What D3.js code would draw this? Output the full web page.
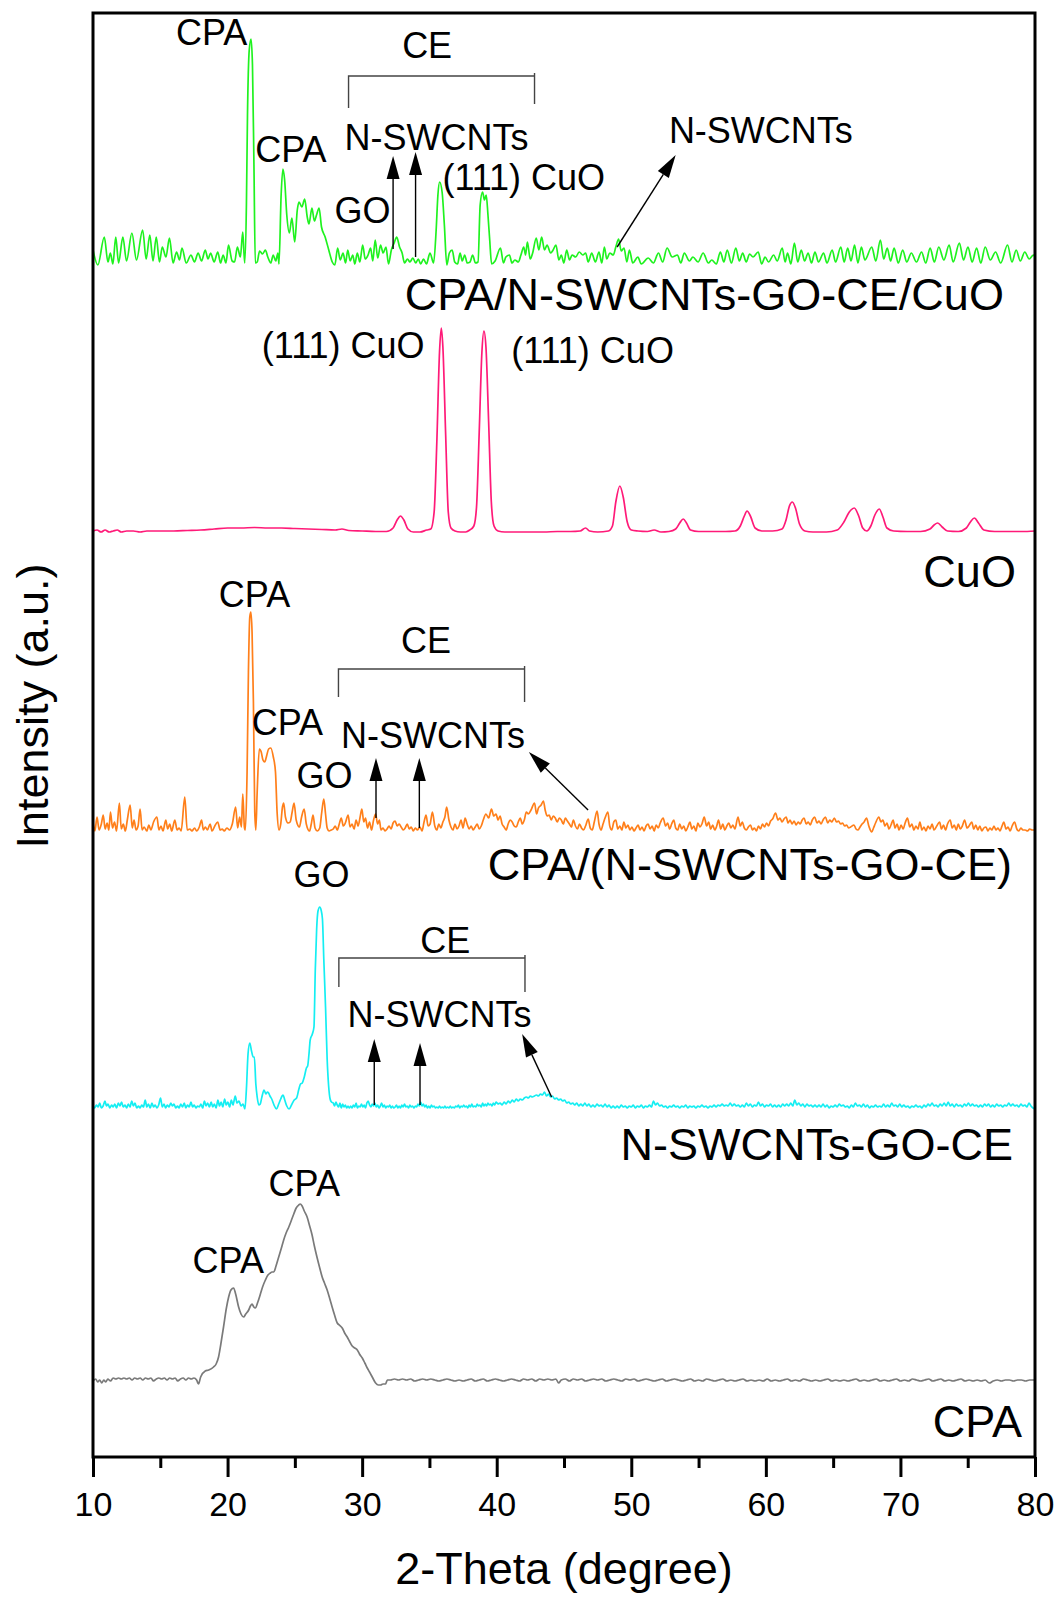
<!DOCTYPE html>
<html>
<head>
<meta charset="utf-8">
<script src="https://cdn.jsdelivr.net/npm/d3@7"></script>
<style>
  body { margin: 0; background: #fff; }
  text { font-family: "Liberation Sans", Arial, Helvetica, sans-serif; fill: #000; }
</style>
</head>
<body>
<svg id="chart" width="1058" height="1597"></svg>
<script>
// ---- XRD patterns: flat lists of [2-theta (deg), relative intensity (a.u.)] ----
const cpaPattern = [
  10.0,1, 10.2,3, 10.35,0, 10.5,2, 10.65,-1, 10.8,2, 10.95,0, 11.1,3, 11.3,1, 11.5,4, 11.7,3, 11.9,4,
  12.1,3, 12.3,4, 12.5,3, 12.7,4, 12.9,2, 13.1,4, 13.3,3, 13.5,4, 13.7,2, 13.9,4, 14.1,3, 14.3,4,
  14.5,1, 14.7,3, 14.9,4, 15.1,3, 15.3,4, 15.5,2, 15.7,4, 15.9,3, 16.1,4, 16.3,1, 16.5,3, 16.7,4,
  16.9,2, 17.1,4, 17.3,3, 17.5,4, 17.7,2, 17.84,-2, 18.0,5, 18.34,11, 18.6,12, 18.96,15, 19.15,18,
  19.33,25, 19.5,38, 19.7,55, 19.9,73, 20.08,85, 20.25,92, 20.45,94, 20.6,88, 20.82,75, 21.0,68,
  21.19,65, 21.35,68, 21.57,72, 21.7,76, 21.82,78, 21.95,75, 22.06,74, 22.25,80, 22.44,88, 22.6,95,
  22.81,102, 23.0,107, 23.18,109, 23.3,110, 23.43,110, 23.6,116, 23.8,125, 24.0,134, 24.17,142,
  24.35,149, 24.55,155, 24.75,162, 24.92,168, 25.1,174, 25.29,177, 25.4,178, 25.54,176, 25.7,171,
  25.91,165, 26.1,156, 26.28,147, 26.45,136, 26.66,124, 26.85,114, 27.03,105, 27.2,99, 27.4,92,
  27.6,83, 27.77,75, 27.95,67, 28.15,59, 28.3,57, 28.52,54, 28.7,49, 28.89,45, 29.05,41, 29.26,36,
  29.45,34, 29.64,32, 29.8,28, 30.01,24, 30.2,19, 30.38,14, 30.55,10, 30.75,5, 31.0,-1, 31.2,-3,
  31.37,-3, 31.55,-2, 31.74,-2, 31.87,2, 32.1,2, 32.4,3, 32.7,2, 33.0,3, 33.3,2, 33.6,3, 33.9,1,
  34.2,2, 34.5,3, 34.8,2, 35.1,3, 35.4,2, 35.7,1, 36.0,2, 36.3,3, 36.6,2, 36.9,1, 37.2,2, 37.5,1,
  37.8,2, 38.1,3, 38.4,1, 38.7,2, 39.0,3, 39.3,1, 39.6,2, 39.9,3, 40.2,2, 40.5,1, 40.8,2, 41.1,3,
  41.4,2, 41.7,1, 42.0,3, 42.3,2, 42.6,3, 42.9,1, 43.2,3, 43.5,2, 43.8,3, 44.1,2, 44.4,3, 44.6,-1,
  44.8,2, 45.1,3, 45.4,1, 45.7,3, 46.0,2, 46.3,3, 46.6,1, 46.9,2, 47.2,3, 47.5,2, 47.8,3, 48.1,1,
  48.4,2, 48.7,3, 49.0,2, 49.3,1, 49.6,3, 49.9,2, 50.2,3, 50.5,1, 50.8,2, 51.1,3, 51.4,2, 51.7,1,
  52.0,2, 52.3,3, 52.6,1, 52.9,2, 53.2,3, 53.5,2, 53.8,1, 54.1,2, 54.4,3, 54.7,1, 55.0,2, 55.3,1,
  55.6,3, 55.9,2, 56.2,1, 56.5,2, 56.8,3, 57.1,1, 57.4,2, 57.7,1, 58.0,2, 58.3,3, 58.6,1, 58.9,2,
  59.2,1, 59.5,2, 59.8,1, 60.1,3, 60.4,1, 60.7,2, 61.0,1, 61.3,2, 61.6,3, 61.9,1, 62.2,2, 62.5,1,
  62.8,3, 63.1,2, 63.4,1, 63.7,2, 64.0,1, 64.3,2, 64.6,3, 64.9,1, 65.2,2, 65.5,1, 65.8,2, 66.1,1,
  66.4,2, 66.7,3, 67.0,1, 67.3,2, 67.6,1, 67.9,2, 68.2,3, 68.5,1, 68.8,2, 69.1,1, 69.4,2, 69.7,3,
  70.0,1, 70.3,2, 70.6,1, 70.9,3, 71.2,2, 71.5,1, 71.8,2, 72.1,3, 72.4,1, 72.7,2, 73.0,3, 73.3,1,
  73.6,2, 73.9,1, 74.2,2, 74.5,3, 74.8,1, 75.1,2, 75.4,1, 75.7,2, 76.0,1, 76.3,2, 76.6,-1, 76.9,1,
  77.2,2, 77.5,1, 77.8,2, 78.1,2, 78.4,1, 78.7,2, 79.0,2, 79.3,1, 79.6,2, 80.0,2
];

const hybridPattern = [ // N-SWCNTs-GO-CE
  10.0,3, 10.12,1, 10.25,4, 10.38,2, 10.5,6, 10.62,1, 10.75,3, 10.89,8, 11.0,3, 11.12,5, 11.25,1,
  11.38,4, 11.5,2, 11.62,5, 11.75,1, 11.88,6, 12.0,3, 12.12,7, 12.25,2, 12.38,4, 12.5,1, 12.62,5,
  12.75,2, 12.88,8, 13.0,3, 13.12,6, 13.25,1, 13.38,3, 13.5,1, 13.62,4, 13.75,2, 13.88,9, 14.0,2,
  14.12,5, 14.25,1, 14.38,6, 14.5,2, 14.62,4, 14.75,1, 14.88,4, 15.02,11, 15.15,2, 15.28,5, 15.4,1,
  15.52,4, 15.65,2, 15.78,6, 15.9,3, 16.02,5, 16.15,1, 16.28,3, 16.4,1, 16.52,5, 16.65,2, 16.78,6,
  16.9,1, 17.02,4, 17.15,2, 17.28,7, 17.4,2, 17.52,4, 17.65,1, 17.78,3, 17.9,2, 18.02,5, 18.15,1,
  18.28,8, 18.4,3, 18.52,6, 18.65,2, 18.78,7, 18.9,2, 19.02,5, 19.15,1, 19.28,9, 19.4,3, 19.52,7,
  19.65,2, 19.78,10, 19.9,4, 20.02,7, 20.15,2, 20.28,9, 20.4,4, 20.57,13, 20.7,6, 20.85,8, 21.0,3,
  21.15,5, 21.29,0, 21.4,20, 21.52,55, 21.65,66, 21.78,58, 21.9,52, 21.99,52, 22.1,25, 22.2,12,
  22.32,4, 22.43,5, 22.55,12, 22.71,19, 22.85,15, 22.95,17, 23.05,16, 23.15,13, 23.28,10, 23.45,4,
  23.63,0, 23.8,5, 23.95,10, 24.05,13, 24.13,14, 24.25,9, 24.4,3, 24.57,0, 24.75,4, 24.95,9,
  25.13,11, 25.3,20, 25.42,25, 25.55,26, 25.7,32, 25.86,41, 25.95,43, 26.05,55, 26.14,69, 26.3,75,
  26.42,82, 26.52,140, 26.62,180, 26.72,198, 26.85,202, 26.95,199, 27.05,190, 27.15,150, 27.28,102,
  27.4,50, 27.51,23, 27.62,10, 27.72,7, 27.85,6, 27.95,3, 28.05,7, 28.15,4, 28.25,2, 28.35,6,
  28.45,1, 28.55,5, 28.65,2, 28.75,4, 28.85,1, 28.95,3, 29.05,1, 29.15,3, 29.25,1, 29.35,4, 29.45,2,
  29.55,6, 29.65,1, 29.75,3, 29.85,2, 29.95,5, 30.05,2, 30.15,4, 30.25,1, 30.35,6, 30.45,8, 30.55,4,
  30.65,2, 30.75,5, 30.85,3, 30.95,6, 31.05,2, 31.15,4, 31.25,1, 31.35,3, 31.45,6, 31.55,2, 31.65,4,
  31.75,1, 31.85,3, 31.95,2, 32.05,4, 32.15,1, 32.25,3, 32.35,1, 32.45,2, 32.55,4, 32.65,1, 32.75,3,
  32.85,1, 32.95,4, 33.05,2, 33.15,5, 33.25,2, 33.35,3, 33.45,1, 33.55,4, 33.65,2, 33.75,3, 33.85,1,
  33.95,3, 34.05,2, 34.15,5, 34.25,3, 34.35,7, 34.45,3, 34.55,5, 34.65,2, 34.75,4, 34.85,1, 34.95,3,
  35.05,1, 35.15,4, 35.25,2, 35.35,3, 35.45,1, 35.55,2, 35.65,1, 35.75,3, 35.85,1, 35.95,2, 36.05,1,
  36.15,3, 36.25,1, 36.35,2, 36.45,1, 36.55,3, 36.65,1, 36.75,2, 36.85,1, 36.95,3, 37.05,2, 37.15,4,
  37.25,1, 37.35,3, 37.45,2, 37.55,4, 37.65,2, 37.75,3, 37.85,1, 37.95,4, 38.05,2, 38.15,5, 38.25,2,
  38.35,3, 38.45,2, 38.55,5, 38.65,3, 38.75,4, 38.85,2, 38.95,6, 39.05,3, 39.15,5, 39.25,3, 39.35,6,
  39.45,4, 39.55,5, 39.65,3, 39.75,6, 39.85,4, 39.95,7, 40.1,5, 40.25,6, 40.4,4, 40.55,7, 40.7,5,
  40.85,8, 41.0,6, 41.15,9, 41.3,7, 41.45,10, 41.6,8, 41.75,10, 41.9,9, 42.05,11, 42.2,12, 42.35,11,
  42.5,13, 42.65,12, 42.8,13, 42.95,14, 43.1,13, 43.25,15, 43.4,14, 43.55,17, 43.7,13, 43.85,15,
  44.0,12, 44.15,13, 44.3,10, 44.45,11, 44.6,9, 44.75,10, 44.9,8, 45.05,9, 45.2,6, 45.35,7, 45.5,5,
  45.65,6, 45.8,4, 45.95,6, 46.1,3, 46.25,5, 46.4,3, 46.55,6, 46.7,3, 46.85,5, 47.0,2, 47.15,4,
  47.3,2, 47.45,5, 47.6,3, 47.75,4, 47.9,2, 48.05,5, 48.2,2, 48.35,4, 48.5,1, 48.65,3, 48.8,1,
  48.95,3, 49.1,1, 49.25,4, 49.4,2, 49.55,3, 49.7,1, 49.85,3, 50.0,2, 50.15,4, 50.3,1, 50.45,3,
  50.6,2, 50.75,4, 50.9,1, 51.05,3, 51.2,2, 51.35,4, 51.5,2, 51.65,8, 51.8,4, 51.95,6, 52.1,3,
  52.25,4, 52.4,2, 52.55,3, 52.7,1, 52.85,3, 53.0,2, 53.15,4, 53.3,2, 53.45,3, 53.6,1, 53.75,3,
  53.9,2, 54.05,4, 54.2,1, 54.35,3, 54.5,2, 54.65,3, 54.8,1, 54.95,3, 55.1,2, 55.25,4, 55.4,2,
  55.55,3, 55.7,1, 55.85,3, 56.0,2, 56.15,4, 56.3,2, 56.45,4, 56.6,3, 56.75,5, 56.9,3, 57.05,4,
  57.2,3, 57.35,6, 57.5,3, 57.65,5, 57.8,3, 57.95,4, 58.1,2, 58.25,4, 58.4,2, 58.55,6, 58.7,3,
  58.85,5, 59.0,2, 59.15,4, 59.3,3, 59.45,7, 59.6,3, 59.75,5, 59.9,2, 60.05,4, 60.2,3, 60.35,5,
  60.5,2, 60.65,4, 60.8,2, 60.95,4, 61.1,2, 61.25,5, 61.4,3, 61.55,5, 61.7,3, 61.85,6, 62.0,3,
  62.15,9, 62.3,4, 62.45,6, 62.6,3, 62.75,5, 62.9,2, 63.05,5, 63.2,3, 63.35,4, 63.5,2, 63.65,4,
  63.8,2, 63.95,4, 64.1,2, 64.25,5, 64.4,2, 64.55,4, 64.7,1, 64.85,3, 65.0,2, 65.15,4, 65.3,2,
  65.45,5, 65.6,3, 65.75,4, 65.9,2, 66.05,3, 66.2,1, 66.35,4, 66.5,2, 66.65,6, 66.8,3, 66.95,4,
  67.1,2, 67.25,5, 67.4,2, 67.55,4, 67.7,1, 67.85,3, 68.0,2, 68.15,4, 68.3,2, 68.45,3, 68.6,2,
  68.75,5, 68.9,2, 69.05,4, 69.2,2, 69.35,6, 69.5,3, 69.65,4, 69.8,2, 69.95,5, 70.1,2, 70.25,4,
  70.4,2, 70.55,3, 70.7,1, 70.85,3, 71.0,2, 71.15,4, 71.3,2, 71.45,3, 71.6,1, 71.75,4, 71.9,2,
  72.05,5, 72.2,3, 72.35,6, 72.5,3, 72.65,4, 72.8,2, 72.95,5, 73.1,3, 73.25,6, 73.4,3, 73.55,7,
  73.7,3, 73.85,5, 74.0,2, 74.15,5, 74.3,3, 74.45,4, 74.6,2, 74.75,5, 74.9,3, 75.05,6, 75.2,3,
  75.35,5, 75.5,3, 75.65,4, 75.8,2, 75.95,4, 76.1,2, 76.25,5, 76.4,3, 76.55,5, 76.7,2, 76.85,4,
  77.0,2, 77.15,5, 77.3,3, 77.45,4, 77.6,2, 77.75,4, 77.9,3, 78.05,6, 78.2,3, 78.35,5, 78.5,3,
  78.65,4, 78.8,2, 78.95,5, 79.1,3, 79.25,4, 79.4,2, 79.55,6, 79.7,3, 79.85,1, 80.0,0
];

const cpaHybridPattern = [ // CPA/(N-SWCNTs-GO-CE)
  10.0,10, 10.14,1, 10.3,15, 10.45,2, 10.62,8, 10.76,17, 10.9,3, 11.05,9, 11.18,2, 11.3,20, 11.45,4,
  11.6,10, 11.75,1, 11.96,29, 12.1,3, 12.25,8, 12.4,1, 12.55,12, 12.76,27, 12.92,4, 13.05,12, 13.2,2,
  13.35,6, 13.5,23, 13.65,2, 13.8,5, 14.0,1, 14.15,7, 14.3,2, 14.5,10, 14.75,15, 14.9,2, 15.05,6,
  15.2,1, 15.41,12, 15.55,3, 15.7,8, 15.85,1, 16.08,12, 16.25,2, 16.4,4, 16.55,1, 16.82,35, 17.0,2,
  17.2,3, 17.35,1, 17.55,4, 17.7,1, 17.9,5, 18.07,12, 18.2,2, 18.35,5, 18.5,2, 18.7,8, 18.85,1,
  19.05,6, 19.27,10, 19.45,2, 19.6,3, 19.75,1, 19.95,4, 20.15,2, 20.35,8, 20.6,25, 20.75,4, 20.9,15,
  21.03,5, 21.13,38, 21.25,5, 21.32,2, 21.45,60, 21.55,160, 21.65,215, 21.73,220, 21.82,200,
  21.92,130, 22.02,20, 22.1,2, 22.2,40, 22.36,83, 22.5,80, 22.63,72, 22.76,70, 22.9,76, 23.05,83,
  23.21,84, 23.4,75, 23.56,60, 23.68,20, 23.82,2, 23.95,8, 24.08,25, 24.17,29, 24.3,15, 24.49,9,
  24.65,10, 24.8,20, 24.94,29, 25.1,12, 25.34,5, 25.5,15, 25.69,23, 25.85,8, 26.09,1, 26.22,8,
  26.35,17, 26.5,4, 26.67,1, 26.85,4, 27.0,20, 27.15,33, 27.28,18, 27.4,4, 27.55,1, 27.7,2, 27.85,3,
  28.0,6, 28.15,2, 28.3,8, 28.45,14, 28.6,6, 28.75,9, 28.96,17, 29.1,5, 29.25,8, 29.4,3, 29.55,12,
  29.7,6, 29.85,15, 29.98,23, 30.12,10, 30.25,14, 30.4,4, 30.55,10, 30.7,2, 30.85,12, 31.0,18,
  31.15,8, 31.28,12, 31.4,2, 31.55,4, 31.7,1, 31.85,3, 32.0,6, 32.15,3, 32.3,9, 32.45,11, 32.6,6,
  32.75,8, 32.9,5, 33.05,2, 33.2,4, 33.35,8, 33.5,3, 33.65,5, 33.8,1, 33.95,4, 34.1,2, 34.3,5,
  34.45,1, 34.6,10, 34.75,17, 34.9,6, 35.05,8, 35.22,20, 35.4,6, 35.55,2, 35.7,8, 35.85,4, 36.0,10,
  36.15,15, 36.28,25, 36.45,12, 36.6,5, 36.75,2, 36.9,8, 37.05,3, 37.2,6, 37.35,12, 37.5,4, 37.65,14,
  37.8,8, 37.95,3, 38.1,6, 38.25,2, 38.4,5, 38.55,8, 38.7,3, 38.85,6, 39.0,12, 39.2,18, 39.4,14,
  39.61,23, 39.78,16, 39.95,18, 40.1,12, 40.25,16, 40.4,8, 40.55,5, 40.7,2, 40.85,8, 41.0,12,
  41.15,10, 41.3,6, 41.45,5, 41.6,10, 41.75,14, 41.9,8, 42.05,12, 42.2,20, 42.35,18, 42.55,22,
  42.81,29, 42.96,18, 43.1,24, 43.3,27, 43.47,31, 43.6,22, 43.75,16, 43.9,17, 44.05,12, 44.2,16,
  44.35,14, 44.5,10, 44.65,14, 44.8,12, 44.95,8, 45.1,14, 45.25,11, 45.4,8, 45.55,5, 45.7,12,
  45.85,6, 46.0,3, 46.15,8, 46.3,4, 46.45,2, 46.6,6, 46.8,13, 46.95,4, 47.1,2, 47.25,10, 47.46,21,
  47.6,8, 47.75,2, 47.9,8, 48.05,14, 48.26,20, 48.4,6, 48.55,2, 48.7,10, 48.85,12, 49.0,3, 49.15,6,
  49.3,2, 49.45,10, 49.6,4, 49.75,7, 49.9,2, 50.05,5, 50.2,1, 50.35,4, 50.51,7, 50.65,2, 50.8,5,
  50.95,1, 51.1,6, 51.25,8, 51.4,3, 51.55,6, 51.7,1, 51.85,7, 52.0,4, 52.15,9, 52.37,14, 52.55,6,
  52.7,9, 52.85,3, 53.0,8, 53.16,12, 53.3,4, 53.45,2, 53.6,8, 53.75,3, 53.9,6, 54.05,1, 54.2,5,
  54.36,10, 54.5,3, 54.65,6, 54.8,1, 54.95,9, 55.1,5, 55.25,8, 55.42,15, 55.6,6, 55.75,10, 55.9,3,
  56.05,7, 56.2,2, 56.35,6, 56.48,12, 56.65,3, 56.8,8, 56.95,2, 57.1,6, 57.25,9, 57.4,4, 57.55,7,
  57.7,3, 57.93,15, 58.1,6, 58.25,10, 58.4,4, 58.55,2, 58.7,5, 58.86,7, 59.0,2, 59.15,4, 59.3,1,
  59.45,6, 59.6,3, 59.75,8, 59.9,5, 60.05,9, 60.2,6, 60.35,11, 60.5,13, 60.72,19, 60.9,12, 61.05,14,
  61.2,10, 61.35,13, 61.51,15, 61.65,9, 61.8,12, 61.95,8, 62.1,11, 62.25,7, 62.4,10, 62.55,8,
  62.7,12, 62.84,14, 63.0,8, 63.15,10, 63.3,7, 63.45,12, 63.63,15, 63.8,9, 63.95,11, 64.1,8,
  64.25,12, 64.43,15, 64.6,9, 64.75,12, 64.9,10, 65.09,14, 65.25,10, 65.4,11, 65.55,8, 65.7,9,
  65.85,6, 66.0,7, 66.15,4, 66.3,5, 66.55,7, 66.7,3, 66.85,2, 67.0,5, 67.15,8, 67.3,10, 67.48,14,
  67.65,6, 67.87,0, 68.0,4, 68.15,9, 68.4,15, 68.55,10, 68.7,12, 68.85,6, 69.0,9, 69.15,3, 69.3,7,
  69.46,12, 69.6,4, 69.75,8, 69.9,2, 70.05,7, 70.2,3, 70.35,9, 70.52,14, 70.7,5, 70.85,8, 71.0,2,
  71.15,6, 71.3,3, 71.45,10, 71.6,2, 71.75,5, 71.9,1, 72.05,6, 72.2,3, 72.35,8, 72.5,2, 72.7,6,
  72.91,10, 73.05,3, 73.2,7, 73.35,2, 73.5,8, 73.7,12, 73.85,4, 74.0,7, 74.15,2, 74.3,8, 74.45,3,
  74.6,6, 74.77,12, 74.95,4, 75.1,6, 75.3,10, 75.45,3, 75.6,7, 75.75,2, 75.9,6, 76.05,1, 76.2,4,
  76.36,5, 76.5,1, 76.65,4, 76.8,2, 76.95,6, 77.1,2, 77.25,4, 77.4,1, 77.55,6, 77.68,10, 77.85,3,
  78.0,5, 78.15,1, 78.3,6, 78.48,10, 78.65,3, 78.8,1, 78.95,4, 79.1,2, 79.27,2, 79.45,1, 79.6,3,
  79.8,2, 80.0,2
];

const cuoPattern = [
  10.0,1, 10.3,2, 10.6,0, 10.9,2, 11.2,0, 11.5,1, 11.8,2, 12.1,0, 12.5,1, 13.0,1, 13.5,0, 14.0,1,
  15.0,1, 16.0,1, 17.0,1.5, 18.0,2, 19.0,3, 20.0,4, 21.0,4, 22.0,4.5, 23.0,4, 24.0,4, 25.0,3.5,
  26.0,3, 27.0,2.5, 28.0,2, 28.5,3, 29.0,1.5, 30.0,1, 31.0,0.5, 31.8,0.5, 32.3,4, 32.6,12, 32.85,16,
  33.1,12, 33.4,3, 33.8,0, 34.3,0, 34.8,2, 35.1,3, 35.35,20, 35.55,90, 35.75,180, 35.88,204,
  36.0,185, 36.2,100, 36.4,20, 36.6,4, 36.9,1, 37.3,0, 37.7,0, 38.0,2, 38.3,6, 38.5,25, 38.7,100,
  38.9,180, 39.05,201, 39.2,185, 39.4,110, 39.6,30, 39.8,6, 40.1,1, 40.6,0, 41.5,0, 42.5,0, 43.5,0,
  44.5,0.5, 45.5,0.5, 46.2,1, 46.6,4, 46.9,1, 47.5,0, 48.3,1, 48.6,6, 48.85,30, 49.15,46, 49.4,35,
  49.7,10, 50.0,2, 50.5,1, 51.2,0.5, 51.7,2, 52.2,0, 52.8,0.5, 53.3,3, 53.6,9, 53.86,13, 54.1,9,
  54.4,2, 55.0,0.5, 56.0,0.5, 57.0,0.5, 57.7,1, 58.1,6, 58.4,16, 58.6,21, 58.85,16, 59.2,4, 59.7,1,
  60.5,1, 61.2,3, 61.5,12, 61.75,26, 61.97,30, 62.2,24, 62.5,8, 62.9,1, 63.5,0, 64.5,0, 65.3,2,
  65.8,10, 66.2,20, 66.57,24, 66.9,16, 67.2,4, 67.5,1, 67.8,6, 68.1,17, 68.43,23, 68.7,15, 69.0,4,
  69.5,1, 70.5,0.5, 71.5,0.5, 72.2,3, 72.5,7, 72.77,9, 73.1,5, 73.5,1, 74.3,0.5, 74.9,4, 75.2,10,
  75.5,14, 75.8,9, 76.2,2, 77.0,0.5, 78.0,0.5, 79.0,0.5, 80.0,1
];

const compositePattern = [ // CPA/N-SWCNTs-GO-CE/CuO
  10.0,15, 10.36,0, 10.84,28, 11.11,3, 11.29,12, 11.48,1, 11.69,28, 11.9,2, 12.22,28, 12.49,4,
  12.89,32, 13.23,5, 13.69,35, 13.95,6, 14.22,30, 14.46,4, 14.7,28, 14.94,3, 15.15,18, 15.42,8,
  15.68,27, 15.95,2, 16.21,13, 16.43,5, 16.61,17, 16.93,2, 17.28,10, 17.54,3, 17.81,12, 18.07,4,
  18.34,15, 18.55,6, 18.74,12, 19.0,3, 19.27,13, 19.48,2, 19.67,10, 19.88,2, 20.07,20, 20.34,4,
  20.52,3, 20.73,18, 20.95,8, 21.13,33, 21.27,2, 21.4,60, 21.48,150, 21.61,215, 21.745,226,
  21.85,200, 21.96,100, 22.06,2, 22.2,3, 22.38,14, 22.6,11, 22.81,15, 22.99,8, 23.21,2, 23.39,10,
  23.58,4, 23.74,12, 23.82,1, 23.98,70, 24.11,96, 24.24,85, 24.4,50, 24.59,32, 24.78,47, 24.99,23,
  25.18,55, 25.31,63, 25.52,58, 25.73,66, 25.92,48, 26.05,41, 26.27,57, 26.45,44, 26.61,50,
  26.8,57, 26.98,38, 27.25,28, 27.52,15, 27.78,3, 27.97,0, 28.18,17, 28.37,5, 28.58,12, 28.77,2,
  28.93,15, 29.11,4, 29.3,10, 29.46,1, 29.64,12, 29.83,3, 30.04,20, 30.23,6, 30.44,10, 30.63,17,
  30.79,4, 30.97,25, 31.16,7, 31.37,20, 31.56,12, 31.77,18, 31.96,1, 32.17,15, 32.38,22, 32.57,28,
  32.78,18, 32.97,12, 33.15,2, 33.37,6, 33.55,3, 33.77,7, 33.98,2, 34.17,6, 34.35,1, 34.56,6,
  34.78,1, 35.04,12, 35.31,2, 35.5,35, 35.63,70, 35.76,83, 35.95,72, 36.11,40, 36.29,0, 36.48,12,
  36.69,15, 36.88,3, 37.09,1, 37.28,12, 37.44,4, 37.62,10, 37.81,2, 38.02,3, 38.21,10, 38.42,2,
  38.61,3, 38.77,60, 38.95,73, 39.09,65, 39.22,70, 39.35,50, 39.48,25, 39.62,1, 39.88,4, 40.28,17,
  40.5,2, 40.68,8, 40.95,10, 41.13,2, 41.35,5, 41.61,3, 41.8,10, 42.01,18, 42.14,10, 42.28,23,
  42.49,6, 42.67,12, 42.94,27, 43.13,15, 43.34,28, 43.55,15, 43.74,20, 44.01,12, 44.19,15, 44.4,20,
  44.62,5, 44.8,10, 44.99,2, 45.2,15, 45.41,5, 45.6,10, 45.87,8, 46.13,13, 46.4,10, 46.61,12,
  46.8,3, 47.06,12, 47.33,3, 47.6,13, 47.81,2, 48.0,18, 48.18,6, 48.4,12, 48.66,10, 48.85,18,
  49.06,26, 49.25,14, 49.46,17, 49.67,3, 49.86,15, 50.11,2, 50.49,8, 50.74,1, 51.26,7, 51.64,2,
  52.02,12, 52.33,3, 52.66,17, 53.04,8, 53.43,10, 53.68,2, 53.94,12, 54.32,4, 54.58,8, 54.96,3,
  55.34,12, 55.73,2, 55.98,5, 56.32,1, 56.62,13, 56.88,3, 57.13,15, 57.44,2, 57.77,17, 58.03,4,
  58.28,12, 58.54,3, 58.79,11, 59.05,8, 59.43,13, 59.69,1, 59.94,8, 60.2,3, 60.58,10, 60.84,4,
  61.22,17, 61.43,3, 61.61,12, 61.86,1, 62.12,22, 62.37,3, 62.63,15, 62.88,4, 63.14,12, 63.39,2,
  63.65,13, 63.91,3, 64.29,12, 64.54,2, 64.93,15, 65.18,3, 65.57,18, 65.82,3, 66.08,17, 66.33,4,
  66.59,20, 66.84,2, 67.1,18, 67.36,5, 67.87,18, 68.17,4, 68.51,25, 68.76,6, 69.02,17, 69.27,4,
  69.53,17, 69.84,2, 70.17,15, 70.47,3, 70.81,12, 71.19,3, 71.57,13, 71.88,2, 72.21,17, 72.52,3,
  72.85,18, 73.23,5, 73.62,20, 73.92,3, 74.38,22, 74.69,5, 75.02,18, 75.33,3, 75.66,17, 75.97,2,
  76.3,18, 76.68,5, 77.07,13, 77.45,2, 77.96,20, 78.29,3, 78.6,15, 78.91,4, 79.24,13, 79.57,6,
  79.88,10, 80.0,8
];

// ---- series (bottom to top), stacking offsets in a.u. ----
const seriesNames   = ["CPA", "N-SWCNTs-GO-CE", "CPA/(N-SWCNTs-GO-CE)", "CuO", "CPA/N-SWCNTs-GO-CE/CuO"];
const seriesColors  = ["#7a7a7a", "#14eef2", "#ff7f1a", "#ff1a78", "#1ff21f"];
const stackOffsets  = [75, 348, 625, 925, 1192];
const seriesData    = [cpaPattern, hybridPattern, cpaHybridPattern, cuoPattern, compositePattern];
// where each series name sits: [2-theta of text end, a.u. of baseline]
const seriesLabelAt = [[79.03, 20], [78.36, 297], [78.29, 577], [78.58, 870], [77.69, 1147]];

// ---- axis ticks ----
const majorTicks = [10, 20, 30, 40, 50, 60, 70, 80];
const minorTicks = [15, 25, 35, 45, 55, 65, 75];

// ---- peak assignments: [text, 2-theta centre, a.u. baseline] ----
const peakLabels = [
  ["CPA", 18.82, 1412], ["CPA", 24.71, 1295], ["GO", 30.03, 1234], ["N-SWCNTs", 35.53, 1307],
  ["(111) CuO", 42.01, 1267], ["CE", 34.83, 1399], ["N-SWCNTs", 59.63, 1314],
  ["(111) CuO", 28.59, 1099], ["(111) CuO", 47.12, 1094],
  ["CPA", 22.0, 850], ["CPA", 24.45, 722], ["GO", 27.2, 669], ["N-SWCNTs", 35.27, 709], ["CE", 34.75, 804],
  ["GO", 26.98, 570], ["CE", 36.17, 504], ["N-SWCNTs", 35.75, 430],
  ["CPA", 20.05, 184], ["CPA", 25.7, 261]
];
// arrows: [from 2-theta, from a.u., to 2-theta, to a.u.] (arrowhead at "to")
const arrows = [
  [32.30, 1208, 32.30, 1301], [33.97, 1200, 33.97, 1305], [48.95, 1210, 53.30, 1302],
  [31.03, 639, 31.03, 699], [34.25, 629, 34.25, 699], [46.79, 647, 42.39, 705],
  [30.90, 352, 30.90, 418], [34.30, 352, 34.30, 414], [44.08, 360, 41.89, 423]
];
// CE range brackets: [left 2-theta, right 2-theta, top a.u., left leg end, right leg end]
const ceBrackets = [
  [28.99, 42.81, 1381, 1349, 1353],
  [28.24, 42.07, 788, 760, 755],
  [28.27, 42.10, 499, 470, 465]
];

const pairs = flat => d3.range(0, flat.length, 2).map(i => [flat[i], flat[i + 1]]);

// ---- layout ----
const margin = { left: 93, right: 23, top: 13, bottom: 140 };
const W = 1058, H = 1597;
const plotW = W - margin.left - margin.right;   // 942
const plotH = H - margin.top - margin.bottom;   // 1444

const svg = d3.select("#chart");
const x = d3.scaleLinear().domain([10, 80]).range([margin.left, margin.left + plotW]);
const y = d3.scaleLinear().domain([0, 1444]).range([margin.top + plotH, margin.top]);

svg.append("defs").append("clipPath").attr("id", "plot-clip")
  .append("rect").attr("x", margin.left).attr("y", margin.top)
  .attr("width", plotW).attr("height", plotH);

// patterns
const traces = svg.append("g").attr("clip-path", "url(#plot-clip)");
seriesData.forEach((flat, i) => {
  const line = d3.line()
    .x(d => x(d[0]))
    .y(d => y(d[1] + stackOffsets[i]))
    .curve(d3.curveMonotoneX);
  traces.append("path")
    .datum(pairs(flat))
    .attr("fill", "none")
    .attr("stroke", seriesColors[i])
    .attr("stroke-width", 1.7)
    .attr("stroke-linejoin", "round")
    .attr("d", line);
});

// CE brackets
const br = svg.append("g").attr("fill", "none").attr("stroke", "#444").attr("stroke-width", 1.4);
ceBrackets.forEach(([l, r, top, lb, rb]) => {
  br.append("path").attr("d",
    `M${x(l)},${y(lb)} V${y(top)} H${x(r)} M${x(r)},${y(top) - 3} V${y(rb)}`);
});

// arrows
const ar = svg.append("g");
arrows.forEach(([x0, y0, x1, y1]) => {
  const px0 = x(x0), py0 = y(y0), px1 = x(x1), py1 = y(y1);
  const ang = Math.atan2(py1 - py0, px1 - px0);
  const len = 23, half = 6.5;
  const bx = px1 - len * Math.cos(ang), by = py1 - len * Math.sin(ang);
  ar.append("line").attr("x1", px0).attr("y1", py0).attr("x2", bx).attr("y2", by)
    .attr("stroke", "#000").attr("stroke-width", 1.4);
  const nx = -Math.sin(ang), ny = Math.cos(ang);
  ar.append("path")
    .attr("d", `M${px1},${py1} L${bx + nx * half},${by + ny * half} L${bx - nx * half},${by - ny * half} Z`)
    .attr("fill", "#000");
});

// peak labels
svg.append("g").selectAll("text").data(peakLabels).join("text")
  .attr("x", d => x(d[1])).attr("y", d => y(d[2]))
  .attr("text-anchor", "middle").attr("font-size", 36)
  .text(d => d[0]);

// series names
svg.append("g").selectAll("text").data(seriesNames).join("text")
  .attr("x", (d, i) => x(seriesLabelAt[i][0]))
  .attr("y", (d, i) => y(seriesLabelAt[i][1]))
  .attr("text-anchor", "end").attr("font-size", 45)
  .text(d => d);

// x axis: major and minor ticks
const axisY = margin.top + plotH;
const majorAxis = d3.axisBottom(x).tickValues(majorTicks).tickFormat(d3.format("d"))
  .tickSize(20).tickSizeOuter(0).tickPadding(15);
const gx = svg.append("g").attr("transform", `translate(0,${axisY})`).call(majorAxis);
gx.selectAll(".tick line").attr("stroke", "#000").attr("stroke-width", 3);
gx.select(".domain").attr("stroke", "none");
gx.selectAll("text").attr("font-size", 34).attr("fill", "#000")
  .attr("font-family", "'Liberation Sans', Arial, sans-serif");

const minorAxis = d3.axisBottom(x).tickValues(minorTicks).tickFormat("").tickSize(11).tickSizeOuter(0);
const gm = svg.append("g").attr("transform", `translate(0,${axisY})`).call(minorAxis);
gm.selectAll(".tick line").attr("stroke", "#000").attr("stroke-width", 3);
gm.select(".domain").attr("stroke", "none");

// plot frame
svg.append("rect")
  .attr("x", margin.left).attr("y", margin.top)
  .attr("width", plotW).attr("height", plotH)
  .attr("fill", "none").attr("stroke", "#000").attr("stroke-width", 3);

// axis titles
svg.append("text")
  .attr("x", margin.left + plotW / 2).attr("y", 1584)
  .attr("text-anchor", "middle").attr("font-size", 45)
  .text("2-Theta (degree)");

svg.append("text")
  .attr("transform", "translate(48,706) rotate(-90)")
  .attr("text-anchor", "middle").attr("font-size", 45)
  .text("Intensity (a.u.)");
</script>
</body>
</html>
